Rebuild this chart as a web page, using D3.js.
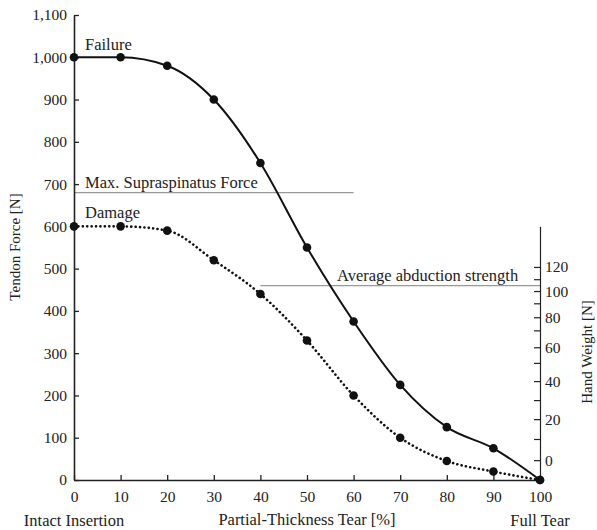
<!DOCTYPE html>
<html>
<head>
<meta charset="utf-8">
<script src="https://cdn.jsdelivr.net/npm/d3@7"></script>
<style>
  body { margin: 0; background: #fff; }
  svg { display: block; font-family: 'Liberation Serif', 'DejaVu Serif', serif; }
  .axis text { font-family: 'Liberation Serif', serif; font-size: 15.5px; fill: #222; }
  .axis path, .axis line { stroke: #222; }
  .label { font-size: 16.5px; fill: #222; }
  .title { font-size: 15px; fill: #222; }
</style>
</head>
<body>
<div id="root"></div>
<script>
const tearPercent = [0, 10, 20, 30, 40, 50, 60, 70, 80, 90, 100];
const failureForce = [1000, 1000, 980, 900, 750, 550, 375, 225, 125, 75, 0];
const damageForce = [600, 600, 590, 520, 440, 330, 200, 100, 45, 20, 0];

const forceTicks = [0, 100, 200, 300, 400, 500, 600, 700, 800, 900, 1000, 1100];
const tearTicks = [0, 10, 20, 30, 40, 50, 60, 70, 80, 90, 100];

// hand weight ticks and the tendon force they sit at on the left scale
const handTicks = [0, 10, 20, 30, 40, 50, 60, 70, 80, 90, 100, 110, 120];
const handTickForce = [47, 97, 144, 189, 234, 277, 314, 354, 385, 418, 447, 475, 504];
const handAxisEnds = { weight: [-10, 145], force: [0, 600] };

const maxSupraspinatus = { force: 680, from: 0, to: 60 };
const avgAbduction = { force: 460, from: 40, to: 100 };

const width = 597;
const height = 530;
const margin = { top: 15, right: 57, bottom: 50, left: 74 };

const svg = d3.select('#root').append('svg')
  .attr('width', width)
  .attr('height', height);

const x = d3.scaleLinear()
  .domain([0, 100])
  .range([margin.left, width - margin.right]);

const y = d3.scaleLinear()
  .domain([0, 1100])
  .range([height - margin.bottom, margin.top]);

const hand = d3.scaleLinear()
  .domain([handAxisEnds.weight[0], ...handTicks, handAxisEnds.weight[1]])
  .range([handAxisEnds.force[0], ...handTickForce, handAxisEnds.force[1]].map(y));

// reference lines
[maxSupraspinatus, avgAbduction].forEach(r => {
  svg.append('line')
    .attr('x1', x(r.from))
    .attr('x2', x(r.to))
    .attr('y1', y(r.force))
    .attr('y2', y(r.force))
    .attr('stroke', '#999')
    .attr('stroke-width', 1.3);
});

// axes
svg.append('g')
  .attr('class', 'axis')
  .attr('transform', `translate(${x(0)},0)`)
  .call(d3.axisLeft(y)
    .tickValues(forceTicks)
    .tickFormat(d3.format(','))
    .tickSize(-5)
    .tickSizeOuter(0)
    .tickPadding(7))
  .call(g => g.select('.domain').attr('stroke-width', 1.6))
  .call(g => g.selectAll('.tick line').attr('stroke-width', 1.3));

svg.append('g')
  .attr('class', 'axis')
  .attr('transform', `translate(0,${y(0)})`)
  .call(d3.axisBottom(x)
    .tickValues(tearTicks)
    .tickSize(-5)
    .tickSizeOuter(0)
    .tickPadding(11))
  .call(g => g.select('.domain').attr('stroke-width', 1.6))
  .call(g => g.selectAll('.tick line').attr('stroke-width', 1.3));

svg.append('g')
  .attr('class', 'axis')
  .attr('transform', `translate(${x(100)},0)`)
  .call(d3.axisRight(hand)
    .tickValues(handTicks)
    .tickFormat(d => d % 20 === 0 ? d : '')
    .tickSize(-6)
    .tickSizeOuter(0)
    .tickPadding(5))
  .call(g => g.select('.domain').attr('stroke', '#555').attr('stroke-width', 1.2))
  .call(g => g.selectAll('.tick line').attr('stroke', '#333').attr('stroke-width', 1.2));

// curves
const line = d3.line()
  .x((d, i) => x(tearPercent[i]))
  .y(d => y(d))
  .curve(d3.curveMonotoneX);

svg.append('path')
  .datum(failureForce)
  .attr('d', line)
  .attr('fill', 'none')
  .attr('stroke', '#111')
  .attr('stroke-width', 2);

svg.append('path')
  .datum(damageForce)
  .attr('d', line)
  .attr('fill', 'none')
  .attr('stroke', '#111')
  .attr('stroke-width', 2.6)
  .attr('stroke-linecap', 'round')
  .attr('stroke-dasharray', '0.1 4.3');

[failureForce, damageForce].forEach(series => {
  svg.append('g')
    .selectAll('circle')
    .data(series)
    .join('circle')
    .attr('cx', (d, i) => x(tearPercent[i]))
    .attr('cy', d => y(d))
    .attr('r', 4.3)
    .attr('fill', '#111');
});

// labels
const label = (tx, ty, txt, anchor = 'start') => svg.append('text')
  .attr('class', 'label')
  .attr('x', tx)
  .attr('y', ty)
  .attr('text-anchor', anchor)
  .text(txt);

label(85, 50, 'Failure');
label(85, 188, 'Max. Supraspinatus Force');
label(85, 218, 'Damage');
label(337, 281, 'Average abduction strength');

label(x(0), 526, 'Intact Insertion', 'middle');
label(x(50), 525, 'Partial-Thickness Tear [%]', 'middle');
label(x(100), 526, 'Full Tear', 'middle');

svg.append('text')
  .attr('class', 'title')
  .attr('transform', 'translate(20,247) rotate(-90)')
  .attr('text-anchor', 'middle')
  .text('Tendon Force [N]');

svg.append('text')
  .attr('class', 'title')
  .attr('transform', 'translate(592,352) rotate(-90)')
  .attr('text-anchor', 'middle')
  .text('Hand Weight [N]');
</script>
</body>
</html>
